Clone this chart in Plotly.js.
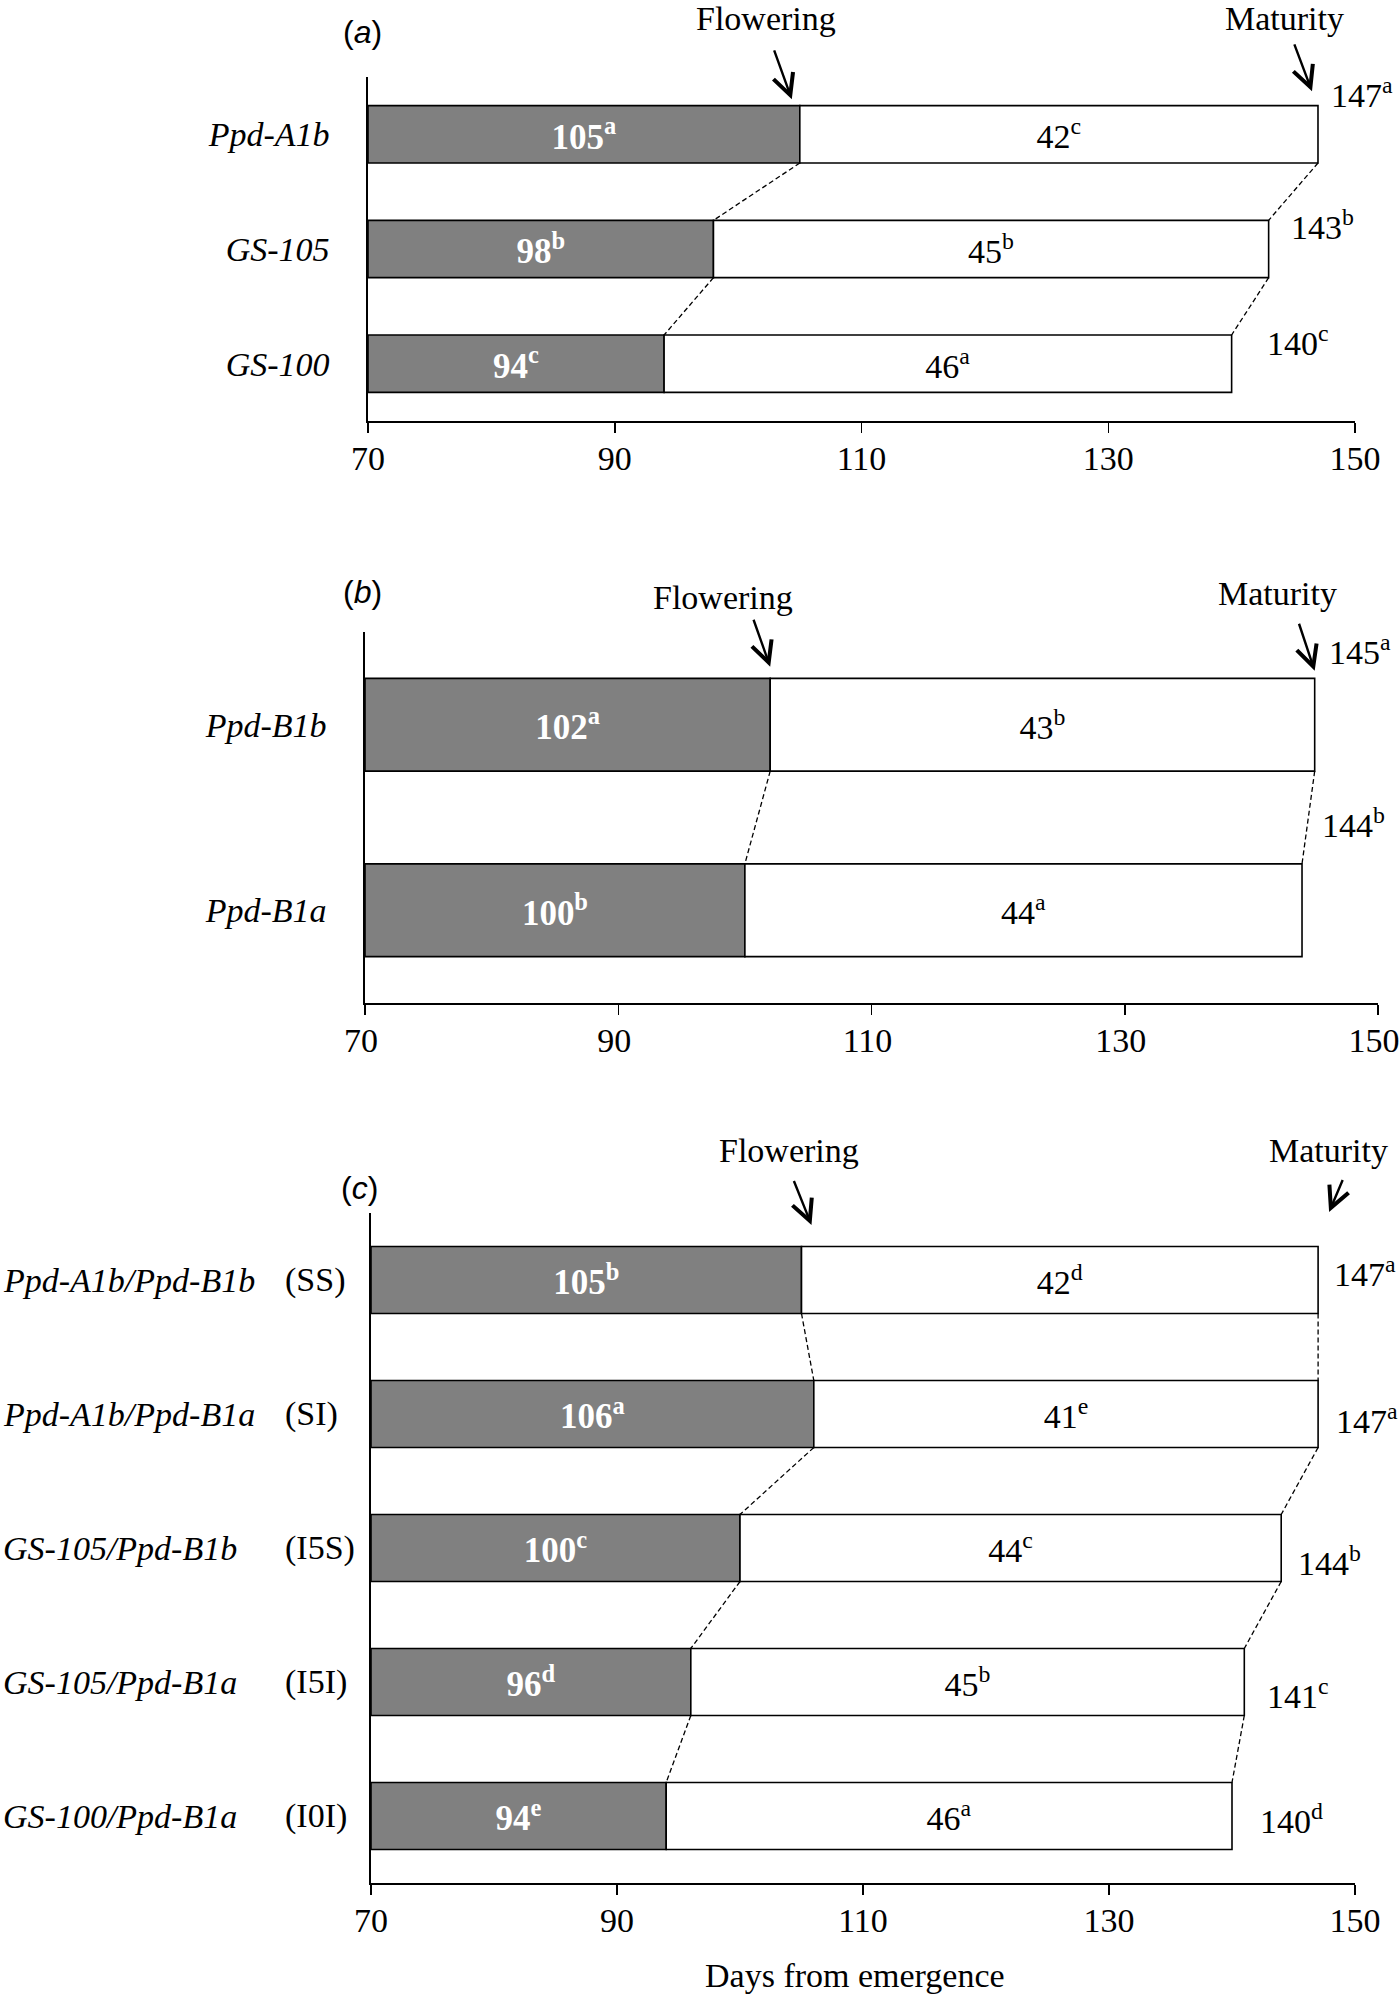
<!DOCTYPE html>
<html><head><meta charset="utf-8">
<script src="https://cdn.plot.ly/plotly-3.0.1.min.js"></script>
<style>html,body{margin:0;padding:0;background:#fff}#chart{width:1400px;height:1997px}</style>
</head><body><div id="chart"></div>
<script>
// ---------- DATA ----------
// Panel (a)
const genotypesA = ['Ppd-A1b', 'GS-105', 'GS-100'];
const floweringA = [105, 98, 94];
const floweringLettersA = ['a', 'b', 'c'];
const grainFillA = [42, 45, 46];
const grainFillLettersA = ['c', 'b', 'a'];
const maturityA = [147, 143, 140];
const maturityLettersA = ['a', 'b', 'c'];

// Panel (b)
const genotypesB = ['Ppd-B1b', 'Ppd-B1a'];
const floweringB = [102, 100];
const floweringLettersB = ['a', 'b'];
const grainFillB = [43, 44];
const grainFillLettersB = ['b', 'a'];
const maturityB = [145, 144];
const maturityLettersB = ['a', 'b'];

// Panel (c)
const genotypesC = ['Ppd-A1b/Ppd-B1b', 'Ppd-A1b/Ppd-B1a', 'GS-105/Ppd-B1b', 'GS-105/Ppd-B1a', 'GS-100/Ppd-B1a'];
const codesC = ['(SS)', '(SI)', '(I5S)', '(I5I)', '(I0I)'];
const floweringC = [105, 106, 100, 96, 94];
const floweringLettersC = ['b', 'a', 'c', 'd', 'e'];
const grainFillC = [42, 41, 44, 45, 46];
const grainFillLettersC = ['d', 'e', 'c', 'b', 'a'];
const maturityC = [147, 147, 144, 141, 140];
const maturityLettersC = ['a', 'a', 'b', 'c', 'd'];

const xTickValues = [70, 90, 110, 130, 150];
const axisStart = 70;
const axisEnd = 150;

// ---------- LAYOUT HELPERS ----------
const W = 1400, H = 1997;
const px = v => v / W;
const py = v => 1 - v / H;
const SERIF = 'Liberation Serif, Times New Roman, serif';
const SANS = 'Liberation Sans, Arial, sans-serif';
const GRAY = '#808080';
const FS = 34;

const panels = [
  {
    id: '', label: 'a', genotypes: genotypesA, flowering: floweringA, fl: floweringLettersA,
    grain: grainFillA, gl: grainFillLettersA, maturity: maturityA, ml: maturityLettersA,
    xdom: [368, 1355], ydom: [77, 421], tickLabels: true, tickShift: 0,
    labelPos: [362, 32],
    flowerText: [766, 18], matText: [1284, 18],
    flowerArrow: {xs: -8, ys: 35, ax: -18, ay: -50},
    matArrow: {xs: -6, ys: 43, ax: -18, ay: -48},
    valShift: [[11, 41], [20, 24.5], [33, 23]]
  },
  {
    id: '2', label: 'b', genotypes: genotypesB, flowering: floweringB, fl: floweringLettersB,
    grain: grainFillB, gl: grainFillLettersB, maturity: maturityB, ml: maturityLettersB,
    xdom: [365, 1378], ydom: [632, 1003], tickLabels: true, tickShift: -4,
    labelPos: [362, 592],
    flowerText: [723, 597], matText: [1277, 593],
    flowerArrow: {xs: 0, ys: 58, ax: -17, ay: -48},
    matArrow: {xs: 0, ys: 54, ax: -16, ay: -48},
    valShift: [[12, 74.5], [18, 87.5]]
  },
  {
    id: '3', label: 'c', genotypes: genotypesC, flowering: floweringC, fl: floweringLettersC,
    grain: grainFillC, gl: grainFillLettersC, maturity: maturityC, ml: maturityLettersC,
    xdom: [371, 1355], ydom: [1213, 1883], tickLabels: false, tickShift: 0,
    labelPos: [359, 1188],
    flowerText: [789, 1150], matText: [1328, 1150],
    flowerArrow: {xs: 10, ys: 55, ax: -18, ay: -45},
    matArrow: {xs: 11, ys: 68, ax: 14, ay: -33},
    valShift: [[14, 8.5], [16, -5], [15, -12.5], [21, -12], [26, -2.5]]
  }
];

const traces = [];
const layout = {
  width: W, height: H,
  margin: {l: 0, r: 0, t: 0, b: 0},
  paper_bgcolor: '#fff', plot_bgcolor: 'rgba(0,0,0,0)',
  barmode: 'overlay',
  showlegend: false,
  font: {family: SERIF, size: FS, color: '#000'},
  annotations: [],
  shapes: []
};

panels.forEach(p => {
  const xa = 'x' + p.id, ya = 'y' + p.id;
  const n = p.genotypes.length;
  const idx = p.genotypes.map((_, i) => i);

  // Vegetative (emergence -> flowering) bars
  traces.push({
    type: 'bar', orientation: 'h', xaxis: xa, yaxis: ya,
    y: idx, base: axisStart, x: p.flowering.map(v => v - axisStart),
    width: 0.5,
    marker: {color: GRAY, line: {color: '#000', width: 1.6}},
    text: p.flowering.map((v, i) => `<b>${v}<sup>${p.fl[i]}</sup></b>`),
    textposition: 'inside', insidetextanchor: 'middle', constraintext: 'none', textangle: 0,
    textfont: {family: SERIF, size: 35, color: '#fff'},
    hoverinfo: 'skip'
  });
  // Grain-fill (flowering -> maturity) bars
  traces.push({
    type: 'bar', orientation: 'h', xaxis: xa, yaxis: ya,
    y: idx, base: p.flowering, x: p.grain,
    width: 0.5,
    marker: {color: '#fff', line: {color: '#000', width: 1.6}},
    text: p.grain.map((v, i) => `${v}<sup>${p.gl[i]}</sup>`),
    textposition: 'inside', insidetextanchor: 'middle', constraintext: 'none', textangle: 0,
    textfont: {family: SERIF, size: FS, color: '#000'},
    hoverinfo: 'skip'
  });
  // Dashed connectors between consecutive bars
  for (let i = 0; i < n - 1; i++) {
    [p.flowering, p.maturity].forEach(arr => {
      traces.push({
        type: 'scatter', mode: 'lines', xaxis: xa, yaxis: ya,
        x: [arr[i], arr[i + 1]], y: [i + 0.25, i + 0.75],
        line: {color: '#000', width: 1.3, dash: '5px,3px'},
        hoverinfo: 'skip', cliponaxis: false
      });
    });
  }

  layout['xaxis' + p.id] = {
    domain: [px(p.xdom[0]), px(p.xdom[1])], anchor: ya,
    range: [axisStart, axisEnd], tickvals: xTickValues, ticktext: xTickValues.map(String),
    ticks: 'outside', ticklen: 10, tickwidth: 1.5, tickcolor: '#000',
    ticklabeloverflow: 'allow', ticklabelstandoff: -3, ticklabelshift: p.tickShift,
    showline: true, linewidth: 1.6, linecolor: '#000',
    showgrid: false, zeroline: false, fixedrange: true,
    tickfont: {family: SERIF, size: FS, color: '#000'}
  };
  layout['yaxis' + p.id] = {
    domain: [py(p.ydom[1]), py(p.ydom[0])], anchor: xa,
    range: [n - 0.5, -0.5], tickvals: idx,
    ticktext: p.genotypes.map(g => `<i>${g}</i>`),
    showticklabels: p.tickLabels, ticks: '', ticklabelstandoff: 30,
    showline: true, linewidth: 1.6, linecolor: '#000',
    showgrid: false, zeroline: false, fixedrange: true,
    tickfont: {family: SERIF, size: FS, color: '#000'}
  };

  // Panel letter
  layout.annotations.push({
    xref: 'paper', yref: 'paper', x: px(p.labelPos[0]), y: py(p.labelPos[1]),
    xanchor: 'center', yanchor: 'middle', showarrow: false,
    text: `(<i>${p.label}</i>)`, font: {family: SANS, size: 32, color: '#000'}
  });
  // Flowering / Maturity headings
  layout.annotations.push({
    xref: 'paper', yref: 'paper', x: px(p.flowerText[0]), y: py(p.flowerText[1]),
    xanchor: 'center', yanchor: 'middle', showarrow: false, text: 'Flowering',
    font: {family: SERIF, size: FS, color: '#000'}
  });
  layout.annotations.push({
    xref: 'paper', yref: 'paper', x: px(p.matText[0]), y: py(p.matText[1]),
    xanchor: 'center', yanchor: 'middle', showarrow: false, text: 'Maturity',
    font: {family: SERIF, size: FS, color: '#000'}
  });
  // Arrows
  [[p.flowering[0], p.flowerArrow], [p.maturity[0], p.matArrow]].forEach(([xv, a]) => {
    layout.annotations.push({
      xref: xa, yref: ya, x: xv, y: 0, xshift: a.xs, yshift: a.ys,
      axref: 'pixel', ayref: 'pixel', ax: a.ax, ay: a.ay,
      showarrow: true, arrowhead: 5, arrowsize: 1.7, arrowwidth: 2.4, arrowcolor: '#000',
      standoff: 0, startstandoff: 0, text: ' ', borderpad: 0,
      font: {size: 1, color: 'rgba(0,0,0,0)'}
    });
  });
  // Maturity value labels
  p.maturity.forEach((v, i) => {
    layout.annotations.push({
      xref: xa, yref: ya, x: v, y: i, xanchor: 'left', yanchor: 'middle',
      xshift: p.valShift[i][0], yshift: p.valShift[i][1], showarrow: false,
      text: `${v}<sup>${p.ml[i]}</sup>`, font: {family: SERIF, size: FS, color: '#000'}
    });
  });
});

// Panel (c) row labels: genotype (italic) and code
genotypesC.forEach((g, i) => {
  layout.annotations.push({
    xref: 'paper', yref: 'y3', x: px(1), y: i, xanchor: 'left', yanchor: 'middle',
    showarrow: false, text: `<i>${g}</i>`, font: {family: SERIF, size: FS, color: '#000'}
  });
  layout.annotations.push({
    xref: 'paper', yref: 'y3', x: px(283), y: i, xanchor: 'left', yanchor: 'middle',
    showarrow: false, text: codesC[i], font: {family: SERIF, size: FS, color: '#000'}
  });
});

// Shared x-axis title
layout.annotations.push({
  xref: 'paper', yref: 'paper', x: px(855), y: py(1975),
  xanchor: 'center', yanchor: 'middle', showarrow: false,
  text: 'Days from emergence', font: {family: SERIF, size: FS, color: '#000'}
});

Plotly.newPlot('chart', traces, layout, {staticPlot: true, displayModeBar: false});
</script>
</body></html>
